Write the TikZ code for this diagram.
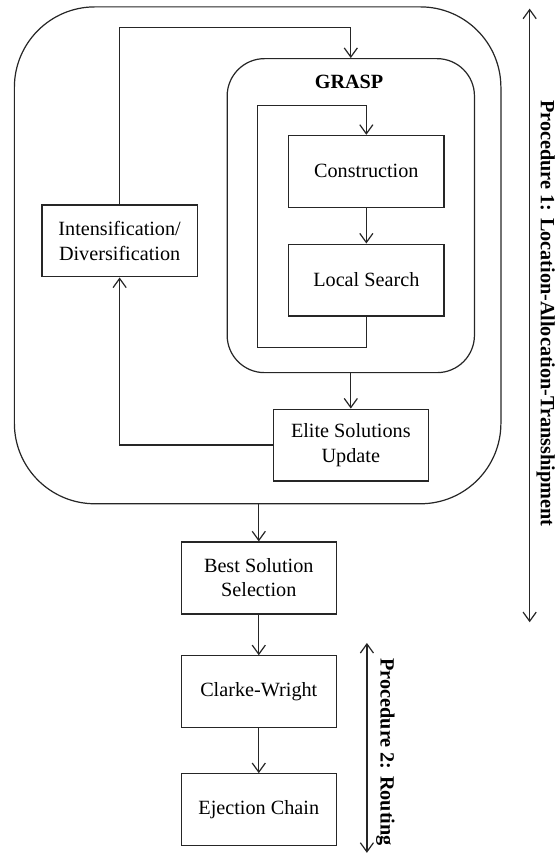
\documentclass[tikz,border=0pt]{standalone}
\usepackage{fontspec}
\setmainfont{Liberation Serif}
\usetikzlibrary{arrows.meta}
\usetikzlibrary{positioning}

\begin{document}
\begin{tikzpicture}
            [line width=0.6pt,
            box/.style={draw=black!85, minimum width=2.70cm, minimum height=1.25cm, align=center, inner sep=1pt},
            frame/.style={draw=black!85, inner sep=0pt},
            link/.style={draw=black!85, -{Straight Barb[length=4.5pt, width=6.5pt]}},
            span/.style={draw=black!85, {Straight Barb[length=4.5pt, width=6.5pt]}-{Straight Barb[length=4.5pt, width=6.5pt]}},
            proclabel/.style={rotate=-90, font=\bfseries, inner sep=0pt},
            ]
            \useasboundingbox (0,0) rectangle (9.67,14.85);

            % containers
            \node[frame, rounded corners=1.4cm, minimum width=8.46cm, minimum height=8.64cm] (outer) at (4.48,10.41) {};
            \node[frame, rounded corners=0.65cm, minimum width=4.30cm, minimum height=5.46cm] (grasp) at (6.10,11.10) {};
            \node[font=\bfseries] (grasplabel) at (6.07,13.43) {GRASP};

            % steps
            \node[box] (constr) at (6.37,11.87) {Construction};
            \node[box] (local) at (6.37,9.98) {Local Search};
            \node[box] (intens) at (2.08,10.66) {Intensification/\\Diversification};
            \node[box] (elite) at (6.10,7.11) {Elite Solutions\\Update};
            \node[box] (best) at (4.50,4.80) {Best Solution\\Selection};
            \node[box] (clarke) at (4.50,2.82) {Clarke-Wright};
            \node[box] (eject) at (4.50,0.77) {Ejection Chain};

            % links
            \draw[link] (constr) -- (local);
            \draw[link] (local.south) -- ++(0,-0.54) -| ++(-1.89,4.21) -| (constr.north);
            \draw[link] (grasp.south) -- (elite.north);
            \draw[link] (elite.west) -| (intens.south);
            \draw[link] (intens.north) -- ++(0,3.08) -| (grasp.north);
            \draw[link] (outer.south -| best.north) -- (best.north);
            \draw[link] (best) -- (clarke);
            \draw[link] (clarke) -- (eject);

            % procedures
            \coordinate (p1top) at (9.21,14.70);
            \coordinate (p1bot) at (9.21,4.03);
            \draw[span] (p1top) -- (p1bot);
            \node[proclabel] (p1label) at (9.49,9.40) {Procedure 1: Location-Allocation-Transshipment};

            \coordinate (p2top) at (6.38,3.67);
            \coordinate (p2bot) at (6.38,0.02);
            \draw[span] (p2top) -- (p2bot);
            \node[proclabel] (p2label) at (6.70,1.77) {Procedure 2: Routing};
        \end{tikzpicture}
\end{document}
